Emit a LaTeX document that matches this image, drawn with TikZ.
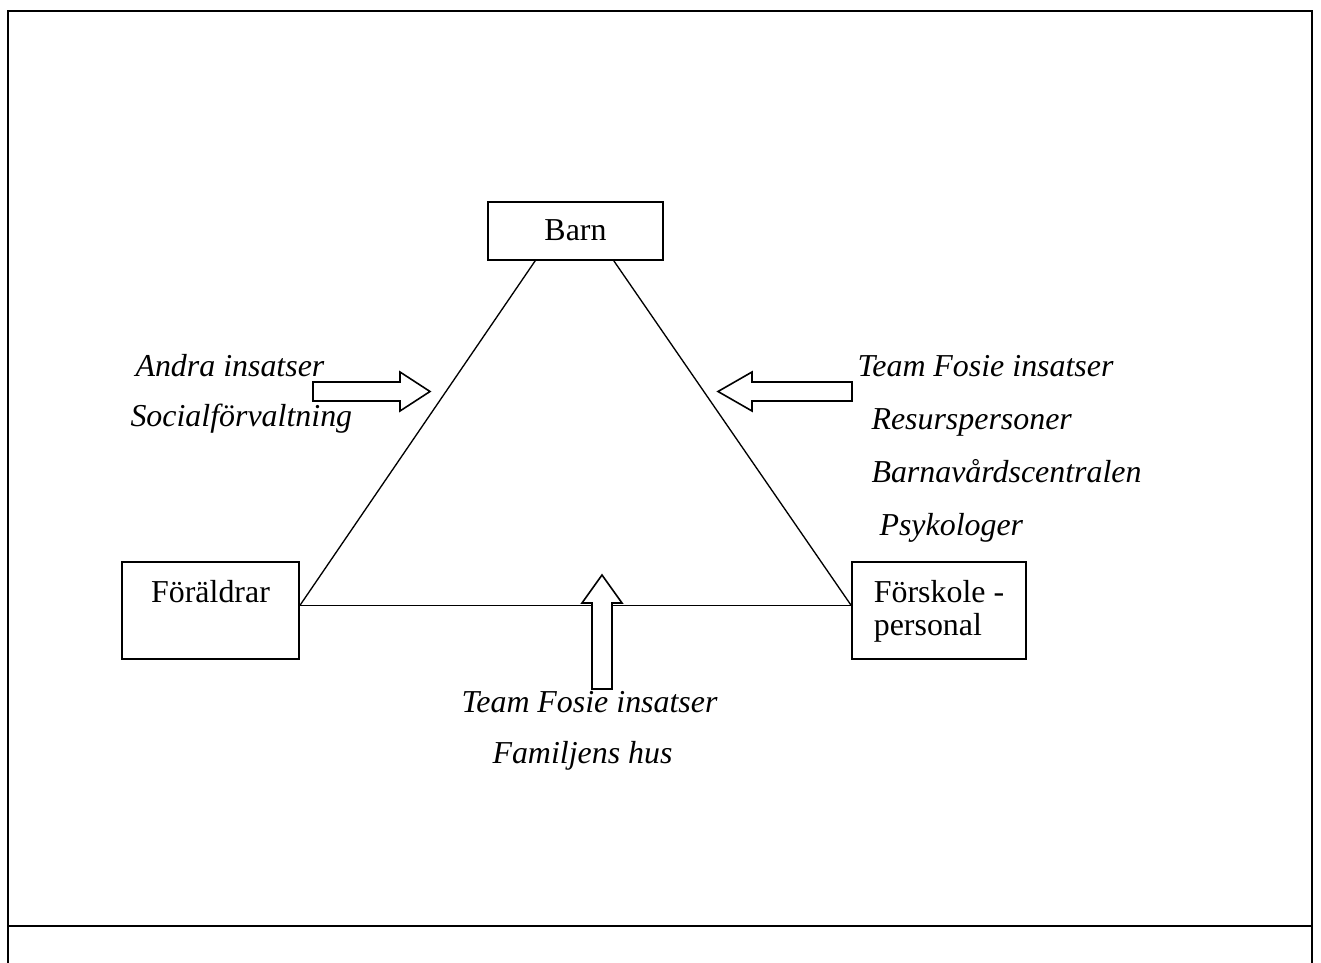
\documentclass[tikz,border=0pt]{standalone}
\usepackage{fontspec}
\setmainfont{Liberation Serif}
\usetikzlibrary{calc}
\newcommand{\diafont}{\fontsize{12pt}{12.4pt}\selectfont}

\begin{document}
\begin{tikzpicture}[x=0.376pt, y=-0.376pt,
    box/.style={draw, line width=0.6pt, inner sep=0pt, font=\diafont},
    note/.style={anchor=base west, inner sep=0pt, font=\diafont\itshape},
    link/.style={line width=0.5pt},
    blockarrow/.style={draw, fill=white, line width=0.6pt, line join=miter}]
    \useasboundingbox (0,0) rectangle (1321,963);

    % Frame
    \draw[line width=0.75pt] (8,963) -- (8,11) -- (1312,11) -- (1312,963);
    \draw[line width=0.75pt] (8,926) -- (1312,926);

    % Boxes
    \node[box, minimum width=65.8pt, text height=14.3pt, text depth=7.5pt] (barn) at (575.5,231) {Barn};
    \node[box, minimum width=66.6pt, text height=15.4pt, text depth=21.1pt] (foraldrar) at (210.5,610.5) {Föräldrar};
    \node[box, minimum width=65.4pt, text height=27.8pt, text depth=8.7pt, align=left] (forskole) at (939,610.5) {Förskole -\\personal};

    % Triangle
    \coordinate (fl) at ($(foraldrar.east)+(0,-5)$);
    \coordinate (fr) at ($(forskole.west)+(0,-5)$);
    \draw[link] ($(barn.south west)+(48,0)$) -- (fl);
    \draw[link] ($(barn.south east)+(-50,0)$) -- (fr);
    \draw[link] (fl) -- (fr);

    % Block arrows
    \draw[blockarrow] (313,382) -- (400,382) -- (400,372) -- (430,391.5) -- (400,411) -- (400,401) -- (313,401) -- cycle;
    \draw[blockarrow] (852,382) -- (752,382) -- (752,372) -- (718,391.5) -- (752,411) -- (752,401) -- (852,401) -- cycle;
    \draw[blockarrow] (592,689) -- (592,603) -- (582,603) -- (602,575) -- (622,603) -- (612,603) -- (612,689) -- cycle;

    % Left labels
    \node[note] (andra) at (135,377) {Andra insatser};
    \node[note] (social) at (130,427) {Socialförvaltning};

    % Right labels
    \node[note] (teamright) at (857,377) {Team Fosie insatser};
    \node[note] (resurs) at (871,430) {Resurspersoner};
    \node[note] (bvc) at (871,483) {Barnavårdscentralen};
    \node[note] (psyk) at (879,535) {Psykologer};

    % Bottom labels
    \node[note] (teambottom) at (461,712) {Team Fosie insatser};
    \node[note] (familj) at (492,763) {Familjens hus};
\end{tikzpicture}
\end{document}
